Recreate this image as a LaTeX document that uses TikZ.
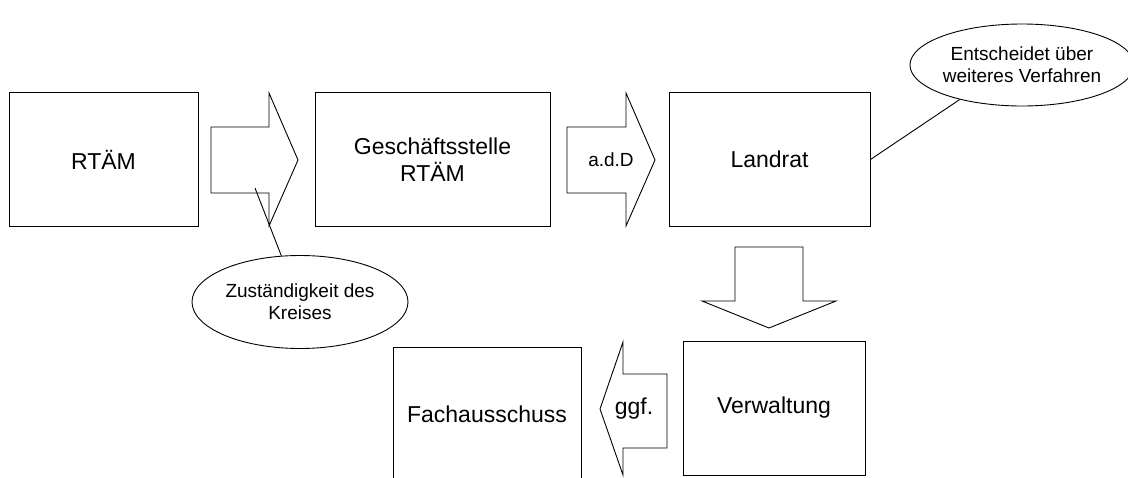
\documentclass[tikz,border=0pt]{standalone}
\usepackage{fontspec}
\setmainfont{Liberation Sans}
\usetikzlibrary{shapes.geometric}
\begin{document}
\begin{tikzpicture}[x=1pt,y=-1pt,
  box/.style={draw,line width=1pt,inner sep=0pt,align=center,font=\fontsize{23}{26.5}\selectfont},
  bubble/.style={draw,ellipse,line width=0.9pt,inner sep=0pt,align=center,font=\fontsize{19}{22}\selectfont},
  blockarrow/.style={draw,line width=0.9pt,line join=miter},
  conn/.style={draw,line width=0.9pt},
  biglbl/.style={inner sep=0pt,align=center,font=\fontsize{23}{26.5}\selectfont},
  smalllbl/.style={inner sep=0pt,align=center,font=\fontsize{19}{22}\selectfont}]
\useasboundingbox (0,0) rectangle (1128,477);
\clip (0,0) rectangle (1128,477);
% boxes
\node[box,minimum width=189,minimum height=134] (rtaem) at (103.5,159.5) {RTÄM};
\node[box,minimum width=235,minimum height=134] (gs) at (432.5,159.5) {Geschäftsstelle\\RTÄM};
\node[box,minimum width=201,minimum height=134] (landrat) at (769.5,159.5) {Landrat};
\node[box,minimum width=182,minimum height=134] (verw) at (774,408) {Verwaltung};
\node[box,minimum width=188,minimum height=134] (fach) at (487,414) {Fachausschuss};
% block arrows
\draw[blockarrow] (211,127) -- (269,127) -- (269,93) -- (298,160) -- (269,226) -- (269,193) -- (211,193) -- cycle;
\draw[blockarrow] (567,127) -- (626,127) -- (626,93) -- (655,160) -- (626,226) -- (626,193) -- (567,193) -- cycle;
\node[smalllbl] (add) at (611,160) {a.d.D};
\draw[blockarrow] (735,247) -- (803,247) -- (803,301) -- (836,301) -- (769,328) -- (702,301) -- (735,301) -- cycle;
\draw[blockarrow] (667,374) -- (623,374) -- (623,342) -- (600,409) -- (623,475) -- (623,448) -- (667,448) -- cycle;
\node[biglbl] (ggf) at (634,409) {ggf.};
% callouts
\node[bubble,minimum width=216,minimum height=93] (zust) at (300,302) {Zuständigkeit des\\Kreises};
\node[bubble,minimum width=214,minimum height=82] (ents) at (1022,65) {Entscheidet über\\weiteres Verfahren};
\coordinate (c1) at (255,188);
\draw[conn] (c1) -- (zust.112);
\draw[conn] (landrat.east) -- (ents.209);
\end{tikzpicture}
\end{document}
